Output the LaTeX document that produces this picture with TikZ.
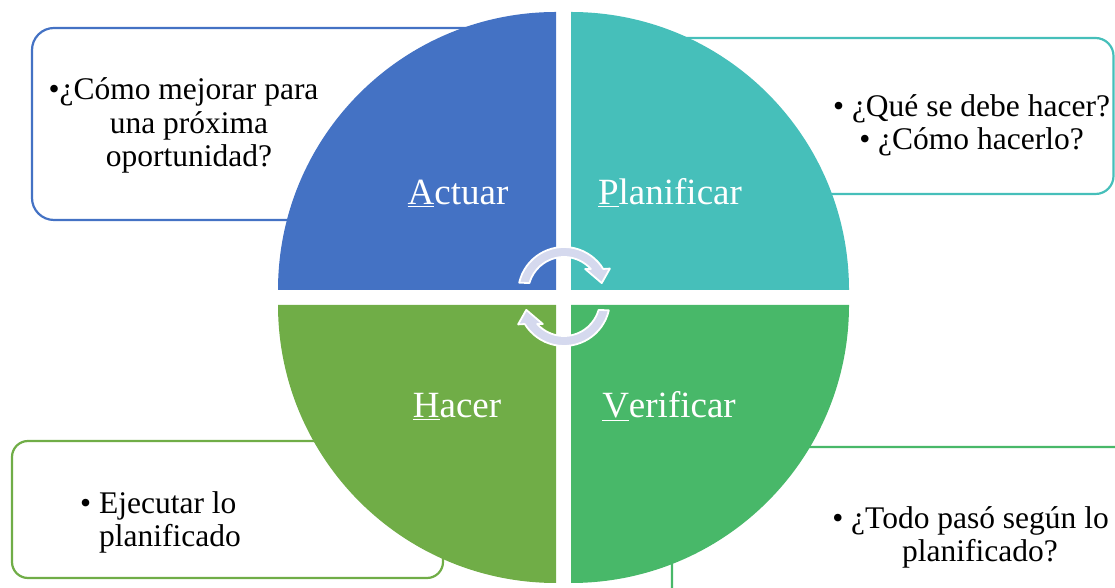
\documentclass[tikz,border=0pt]{standalone}
\usepackage{fontspec}
\setmainfont{Liberation Serif}
\definecolor{cblue}{HTML}{4472C4}
\definecolor{cteal}{HTML}{46BFBA}
\definecolor{cgreenA}{HTML}{70AD47}
\definecolor{cgreenB}{HTML}{48B869}
\definecolor{carrow}{HTML}{D5D9EE}
\tikzset{
  infobox/.style={line width=2.2, rounded corners=18, fill=white},
  qlabel/.style={text=white, anchor=base, inner sep=0, font=\fontsize{37}{44}\selectfont},
  itemtext/.style={text=black, anchor=base, inner sep=0, align=center, font=\fontsize{31.5}{33.5}\selectfont},
  cyclearrow/.style={fill=carrow, draw=white, line width=1.8, line join=round},
}
\begin{document}
\begin{tikzpicture}[x=1pt,y=1pt]
\useasboundingbox (0,0) rectangle (1115,588);
% info boxes (behind the circle)
\draw[infobox, draw=cblue, rounded corners=22] (32,560) rectangle (520,368);
\draw[infobox, draw=cteal] (620,550) rectangle (1113.5,394);
\draw[infobox, draw=cgreenA, rounded corners=16] (12,147) rectangle (443,10);
\draw[infobox, draw=cgreenB] (672,141) rectangle (1140,-30);
% quadrants
\fill[cblue] (556,298) -- ++(-278,0) arc[start angle=180,end angle=90,radius=278] -- cycle;
\fill[cteal] (571,298) -- ++(0,278) arc[start angle=90,end angle=0,radius=278] -- cycle;
\fill[cgreenA] (556,283) -- ++(-278,0) arc[start angle=180,end angle=270,radius=278] -- cycle;
\fill[cgreenB] (571,283) -- ++(278,0) arc[start angle=0,end angle=-90,radius=278] -- cycle;
% quadrant labels
\node[qlabel] (actuar) at (458,383) {\underline{A}ctuar};
\node[qlabel] (planificar) at (670,383) {\underline{P}lanificar};
\node[qlabel] (hacer) at (457,170) {\underline{H}acer};
\node[qlabel] (verificar) at (669,170) {\underline{V}erificar};
% box texts (base = baseline of the last line)
\node[itemtext] (tactuar) at (189,421) {\llap{•}¿Cómo mejorar para\\una próxima\\oportunidad?};
\node[itemtext] (tplan) at (981,438) {\llap{• }¿Qué se debe hacer?\\\llap{• }¿Cómo hacerlo?};
\node[itemtext, align=left, anchor=base west] (thacer) at (80,41) {• Ejecutar lo\\\phantom{• }planificado};
\node[itemtext] (tverif) at (980,26) {\llap{• }¿Todo pasó según lo\\planificado?};
% cycle arrows
\begin{scope}[shift={(564,295)}]
\draw[cyclearrow] (167:46) arc[start angle=167,end angle=31.5,radius=46]
  -- (28:52) -- (14.7:39) -- (48.6:32) -- (41.8:36)
  arc[start angle=41.8,end angle=164,radius=36] -- cycle;
\end{scope}
\begin{scope}[shift={(564,288)}, rotate=180]
\draw[cyclearrow] (167:46) arc[start angle=167,end angle=31.5,radius=46]
  -- (28:52) -- (14.7:39) -- (48.6:32) -- (41.8:36)
  arc[start angle=41.8,end angle=164,radius=36] -- cycle;
\end{scope}
\end{tikzpicture}
\end{document}
